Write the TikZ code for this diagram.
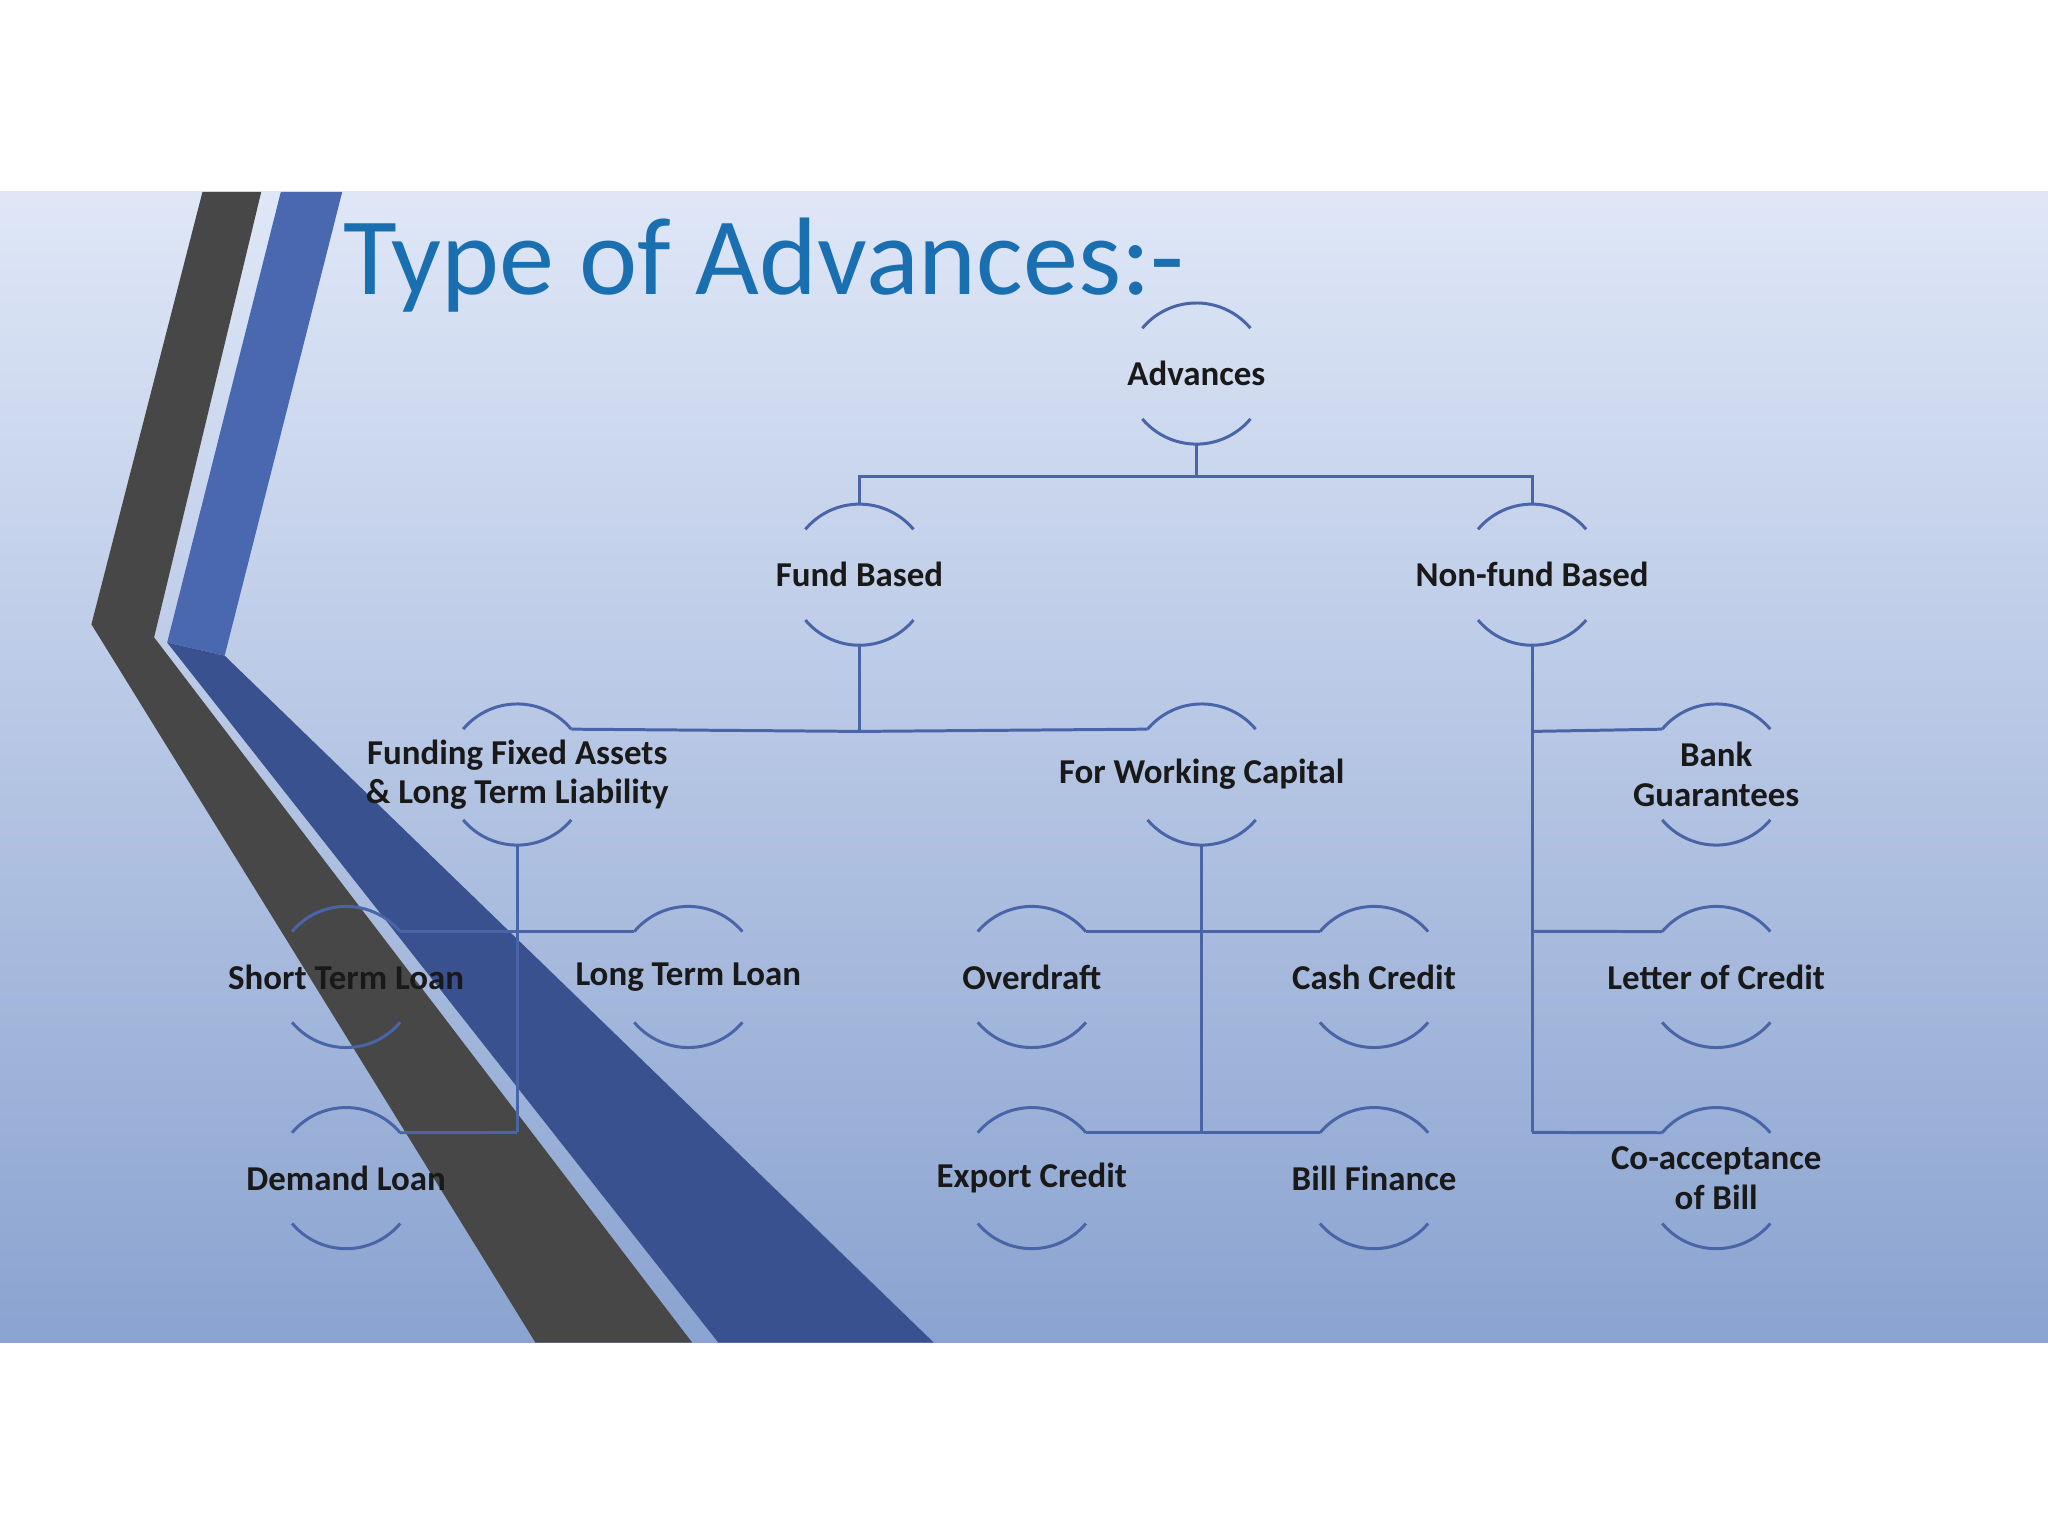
\documentclass[tikz,border=0pt]{standalone}
\usepackage{fontspec}
\setmainfont{Carlito}
\begin{document}
\begin{tikzpicture}[x=0.01cm,y=-0.01cm,
  lbl/.style={font=\bfseries\fontsize{7.6pt}{8.6pt}\selectfont,text=black!90,align=center,inner sep=0pt},
  conn/.style={draw=lc,line width=0.65pt},
  arcst/.style={draw=lc,line width=0.65pt}]
\definecolor{lc}{HTML}{4A64A8}
\definecolor{bgtop}{RGB}{223,231,247}
\definecolor{bgbot}{RGB}{138,163,208}
\definecolor{stripe}{RGB}{74,104,176}
\definecolor{stripedk}{RGB}{58,81,144}
\definecolor{titlec}{RGB}{26,111,176}
\useasboundingbox (0,0) rectangle (1568,1176);
\fill[white] (0,0) rectangle (1568,1176);
\shade[top color=bgtop,bottom color=bgbot] (0,147) rectangle (1568,1028);
% decorations
\fill[black!72] (155,147) -- (200,147) -- (118,488) -- (530,1028) -- (410,1028) -- (70,478) -- cycle;
\fill[stripe] (215,147) -- (262,147) -- (172,502) -- (128,492) -- cycle;
\fill[stripedk] (128,492) -- (172,502) -- (715,1028) -- (550,1028) -- cycle;
\node[font=\fontsize{24pt}{28pt}\selectfont,text=titlec,anchor=west,inner sep=0pt] (title) at (262,203) {Type of Advances:-};
% nodes
\def\R{54}
\foreach \n/\x/\y/\t in {adv/916/286/Advances, fb/658/440/Fund Based, nfb/1173/440/Non-fund Based,
  ffa/396/593/{Funding Fixed Assets\\\& Long Term Liability}, fwc/920/593/For Working Capital,
  bg/1314/593/{Bank\\Guarantees}, stl/265/748/Short Term Loan, ltl/527/748/Long Term Loan,
  od/790/748/Overdraft, cc/1052/748/Cash Credit, lcr/1314/748/Letter of Credit,
  dl/265/902/Demand Loan, ec/790/902/Export Credit, bf/1052/902/Bill Finance,
  cab/1314/902/{Co-acceptance\\of Bill}}{
  \node[lbl] (\n) at (\x,\y) {\t};
  \draw[arcst] ([shift={(\x,\y)}]40:0.54cm) arc[start angle=40,end angle=140,radius=0.54cm];
  \draw[arcst] ([shift={(\x,\y)}]220:0.54cm) arc[start angle=220,end angle=320,radius=0.54cm];
  \coordinate (\n-t) at (\x,\y-\R);
  \coordinate (\n-b) at (\x,\y+\R);
  \coordinate (\n-tl) at ([shift={(\x,\y)}]140:0.54cm);
  \coordinate (\n-tr) at ([shift={(\x,\y)}]40:0.54cm);
}
% connectors
\draw[conn] (adv-b) -- (916,365) coordinate (j1);
\draw[conn] (fb-t) |- (j1) -| (nfb-t);
\draw[conn] (fb-b) -- (658,560) coordinate (j2);
\draw[conn] (ffa-tr) -- (j2) -- (fwc-tl);
\draw[conn] (ffa-b) -- (396,867) coordinate (j3);
\draw[conn] (stl-tr) -- (ltl-tl);
\draw[conn] (dl-tr) -- (j3);
\draw[conn] (fwc-b) -- (920,867) coordinate (j4);
\draw[conn] (od-tr) -- (cc-tl);
\draw[conn] (ec-tr) -- (bf-tl);
\draw[conn] (nfb-b) -- (1173,867) coordinate (j5);
\draw[conn] (1173,560) -- (bg-tl);
\draw[conn] (1173,713) -- (lcr-tl);
\draw[conn] (j5) -- (cab-tl);
\end{tikzpicture}
\end{document}
